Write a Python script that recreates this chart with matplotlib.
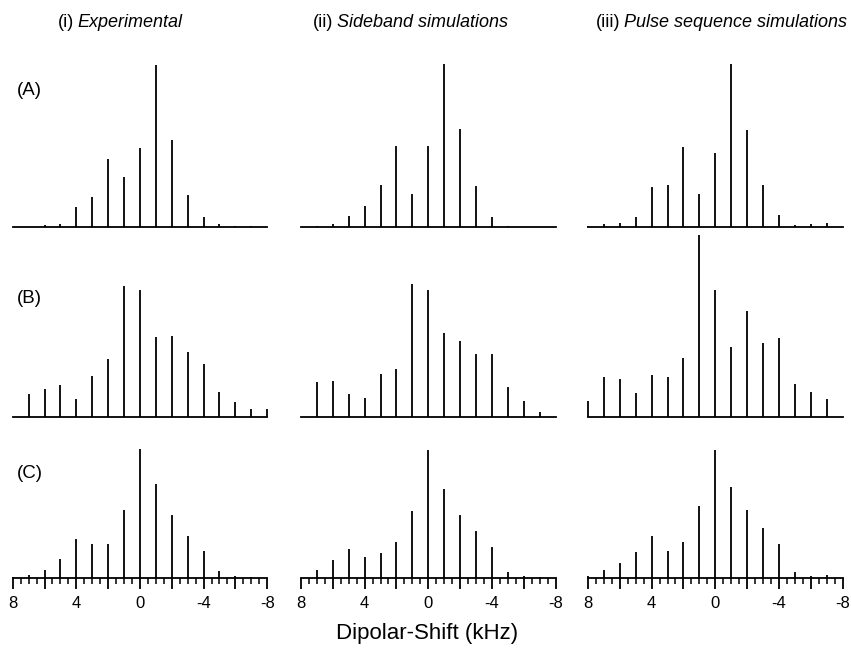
import matplotlib
matplotlib.use("Agg")
import matplotlib.pyplot as plt
import numpy as np
from matplotlib.text import Annotation
from matplotlib.ticker import MultipleLocator, FixedLocator, FixedFormatter

# sideband positions (kHz), from +8 down to -8
shifts = [8, 7, 6, 5, 4, 3, 2, 1, 0, -1, -2, -3, -4, -5, -6, -7, -8]

# sideband intensities (arbitrary units)
A_exp = [0, 0, 5, 10, 60, 89, 204, 150, 237, 485, 260, 95, 30, 9, 3, 3, 0]
A_side = [0, 2, 8, 33, 63, 127, 242, 100, 242, 490, 293, 122, 30, 2, 0, 0, 0]
A_pulse = [3, 8, 11, 30, 120, 125, 240, 100, 221, 490, 290, 125, 36, 7, 8, 11, 0]

B_exp = [0, 70, 85, 97, 55, 124, 175, 394, 382, 241, 244, 195, 160, 76, 46, 24, 25]
B_side = [0, 104, 109, 68, 57, 130, 145, 399, 382, 253, 228, 189, 190, 91, 48, 14, 0]
B_pulse = [47, 119, 114, 71, 127, 119, 176, 547, 382, 209, 317, 223, 237, 100, 76, 55, 0]

C_exp = [2, 9, 23, 56, 117, 101, 103, 205, 387, 282, 190, 127, 81, 20, 6, 4, 0]
C_side = [0, 23, 53, 88, 62, 76, 108, 200, 385, 268, 188, 142, 92, 19, 6, 2, 0]
C_pulse = [6, 23, 44, 77, 127, 82, 108, 215, 385, 272, 204, 149, 101, 19, 7, 10, 0]

spectra = [[A_exp, A_side, A_pulse],
           [B_exp, B_side, B_pulse],
           [C_exp, C_side, C_pulse]]

title_prefix = ["(i)", "(ii)", "(iii)"]
title_body = ["Experimental", "Sideband simulations", "Pulse sequence simulations"]
row_labels = ["(A)", "(B)", "(C)"]
tick_labels = ["8", "", "4", "", "0", "", "-4", "", "-8"]

plt.rcParams['font.family'] = ['Liberation Sans', 'DejaVu Sans']
plt.rcParams['axes.unicode_minus'] = False

W, H = 851, 649
fig = plt.figure(figsize=(W / 100, H / 100), dpi=100)

col_left = [12.7, 301, 588]
col_width = 254.5
row_base = [227, 417, 578]
row_height = [175, 185, 150]

for r in range(3):
    for c in range(3):
        ax = fig.add_axes([col_left[c] / W, 1 - row_base[r] / H,
                           col_width / W, row_height[r] / H])
        ax.patch.set_visible(False)
        ax.vlines(shifts, 0, spectra[r][c], color='black', lw=1.3, clip_on=False)
        ax.set_xlim(8, -8)
        ax.set_ylim(0, row_height[r] * 3)
        for s in ['top', 'left', 'right']:
            ax.spines[s].set_visible(False)
        ax.spines['bottom'].set_linewidth(1.3)
        ax.set_yticks([])
        if r == 2:
            ax.xaxis.set_major_locator(FixedLocator(np.arange(8, -9, -2)))
            ax.xaxis.set_major_formatter(FixedFormatter(tick_labels))
            ax.xaxis.set_minor_locator(MultipleLocator(0.5))
            ax.tick_params(axis='x', which='major', length=8, width=1.3,
                           labelsize=12, pad=5)
            ax.tick_params(axis='x', which='minor', length=4.5, width=1.1)
        else:
            ax.set_xticks([])

# column titles: upright numeral, italic description
fs_title = 13
y_title = 1 - 27 / H
for c in range(2):
    x0 = [58, 313][c]
    t1 = fig.text(x0 / W, y_title, title_prefix[c], fontsize=fs_title,
                  ha='left', va='baseline')
    fig.add_artist(Annotation(title_body[c], xy=(1, 0), xycoords=t1,
                              xytext=(2.5, 0), textcoords='offset points',
                              fontsize=fs_title, style='italic',
                              ha='left', va='bottom'))
t2 = fig.text(847 / W, y_title, title_body[2], fontsize=fs_title, style='italic',
              ha='right', va='baseline')
fig.add_artist(Annotation(title_prefix[2], xy=(0, 0), xycoords=t2,
                          xytext=(-2.5, 0), textcoords='offset points',
                          fontsize=fs_title, ha='right', va='bottom'))

for r in range(3):
    yb = [95, 303, 478][r]
    fig.text(17 / W, 1 - yb / H, row_labels[r], fontsize=13.5, ha='left', va='baseline')

fig.text(427 / W, 1 - 634 / H, "Dipolar-Shift (kHz)", fontsize=16, ha='center', va='center')

plt.savefig('out.png', dpi=100)
